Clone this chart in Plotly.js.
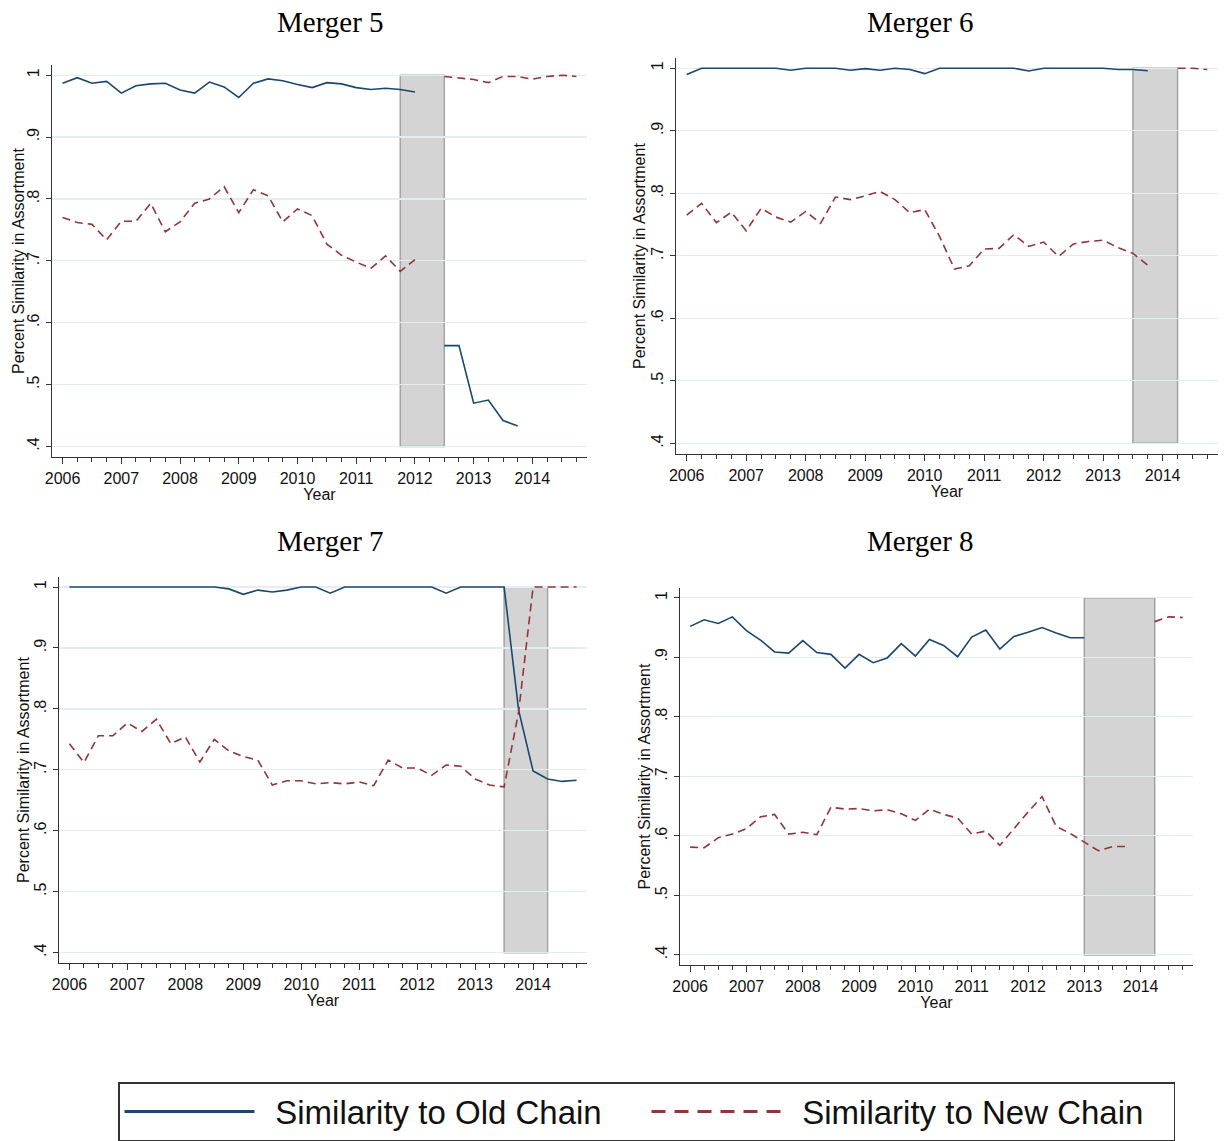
<!DOCTYPE html>
<html>
<head>
<meta charset="utf-8">
<script src="https://cdn.plot.ly/plotly-3.0.1.min.js"></script>
<style>
html,body{margin:0;padding:0;background:#fff;}
#chart{width:1225px;height:1141px;}
</style>
</head>
<body>
<div id="chart"></div>
<script>
// ---------------- DATA ----------------
const quarters = [
  2006, 2006.25, 2006.5, 2006.75,
  2007, 2007.25, 2007.5, 2007.75,
  2008, 2008.25, 2008.5, 2008.75,
  2009, 2009.25, 2009.5, 2009.75,
  2010, 2010.25, 2010.5, 2010.75,
  2011, 2011.25, 2011.5, 2011.75,
  2012, 2012.25, 2012.5, 2012.75,
  2013, 2013.25, 2013.5, 2013.75,
  2014, 2014.25, 2014.5, 2014.75
];
const mergerNames = ["Merger 5", "Merger 6", "Merger 7", "Merger 8"];
const seriesNames = ["Similarity to Old Chain", "Similarity to New Chain"];
const xTickVals = [2006, 2007, 2008, 2009, 2010, 2011, 2012, 2013, 2014];
const xTickText = ["2006", "2007", "2008", "2009", "2010", "2011", "2012", "2013", "2014"];
const yTickVals = [0.4, 0.5, 0.6, 0.7, 0.8, 0.9, 1.0];
const yTickText = [".4", ".5", ".6", ".7", ".8", ".9", "1"];
const yTitle = "Percent Similarity in Assortment";
const xTitle = "Year";

const oldM5 = [0.987, 0.996, 0.987, 0.990, 0.971, 0.983, 0.986, 0.987,
  0.976, 0.971, 0.989, 0.981, 0.964, 0.987, 0.994, 0.991,
  0.985, 0.980, 0.988, 0.986, 0.980, 0.977, 0.979, 0.977,
  0.973, null, 0.563, 0.563, 0.470, 0.475, 0.442, 0.433,
  null, null, null, null];
const newM5 = [0.770, 0.762, 0.759, 0.734, 0.764, 0.764, 0.793, 0.747,
  0.763, 0.793, 0.800, 0.820, 0.778, 0.815, 0.805, 0.763,
  0.784, 0.773, 0.727, 0.709, 0.698, 0.688, 0.708, 0.683,
  0.702, null, 0.998, 0.996, 0.993, 0.988, 0.998, 0.998,
  0.9935, 0.998, 1.000, 0.998];

const oldM6 = [0.990, 1.000, 1.000, 1.000, 1.000, 1.000, 1.000, 0.997,
  1.000, 1.000, 1.000, 0.997, 0.9995, 0.997, 1.000, 0.998,
  0.9915, 1.000, 1.000, 1.000, 1.000, 1.000, 1.000, 0.9957,
  1.000, 1.000, 1.000, 1.000, 1.000, 0.998, 0.998, 0.996,
  null, null, null, null];
const newM6 = [0.765, 0.784, 0.753, 0.770, 0.740, 0.776, 0.762, 0.754,
  0.771, 0.752, 0.794, 0.790, 0.796, 0.803, 0.790, 0.769,
  0.774, 0.731, 0.679, 0.684, 0.711, 0.712, 0.734, 0.715,
  0.722, 0.699, 0.719, 0.723, 0.725, 0.713, 0.704, 0.685,
  null, 1.000, 1.000, 0.998];

const oldM7 = [1.000, 1.000, 1.000, 1.000, 1.000, 1.000, 1.000, 1.000,
  1.000, 1.000, 1.000, 0.997, 0.988, 0.995, 0.992, 0.995,
  1.000, 1.000, 0.990, 1.000, 1.000, 1.000, 1.000, 1.000,
  1.000, 1.000, 0.990, 1.000, 1.000, 1.000, 1.000, 0.798,
  0.698, 0.685, 0.681, 0.683];
const newM7 = [0.743, 0.712, 0.756, 0.756, 0.777, 0.763, 0.783, 0.743,
  0.754, 0.713, 0.750, 0.731, 0.722, 0.716, 0.675, 0.682,
  0.682, 0.677, 0.679, 0.677, 0.680, 0.674, 0.716, 0.703,
  0.703, 0.691, 0.708, 0.706, 0.685, 0.675, 0.672, 0.795,
  1.000, 1.000, 1.000, 1.000];

const oldM8 = [0.952, 0.963, 0.957, 0.968, 0.945, 0.929, 0.909, 0.907,
  0.928, 0.908, 0.905, 0.882, 0.905, 0.891, 0.899, 0.923,
  0.902, 0.930, 0.920, 0.901, 0.934, 0.946, 0.914, 0.935,
  0.942, 0.950, 0.941, 0.933, 0.933, null, null, null,
  null, null, null, null];
const newM8 = [0.581, 0.580, 0.597, 0.603, 0.612, 0.632, 0.636, 0.603,
  0.606, 0.602, 0.648, 0.645, 0.646, 0.642, 0.644, 0.637,
  0.626, 0.645, 0.636, 0.630, 0.603, 0.608, 0.584, 0.613,
  0.640, 0.666, 0.616, 0.604, 0.589, 0.575, 0.582, 0.582,
  null, 0.960, 0.968, 0.967];

const shadeStart = [2011.75, 2013.5, 2013.5, 2013.0];
const shadeEnd = [2012.5, 2014.25, 2014.25, 2014.25];
const shadeLow = [0.4, 0.4, 0.4, 0.4];
const shadeHigh = [1.0, 1.0, 1.0, 1.0];

const oldSeries = [oldM5, oldM6, oldM7, oldM8];
const newSeries = [newM5, newM6, newM7, newM8];

// ---------------- LAYOUT ----------------
const W = 1225, H = 1141;
const boxes = [
  {l: 52, r: 587, t: 65, b: 457},
  {l: 676, r: 1218, t: 58, b: 454},
  {l: 59, r: 587, t: 577, b: 963},
  {l: 680, r: 1193, t: 588, b: 965}
];
const titlePos = [
  {x: 330, y: 22}, {x: 920, y: 22}, {x: 330, y: 541}, {x: 920, y: 541}
];
const yTitleX = [18, 639, 23, 644];
const oldColor = "#1a476f";
const newColor = "#90353b";
const axisColor = "#333333";
const gridColor = "#e4edf0";
const fontFam = "Liberation Sans, Arial, sans-serif";
const legendPad = "\u00a0\u2009";

const traces = [];
const layout = {
  width: W, height: H,
  margin: {l: 0, r: 0, t: 0, b: 0, autoexpand: false},
  paper_bgcolor: "#ffffff",
  plot_bgcolor: "#ffffff",
  font: {family: fontFam, color: "#111111", size: 16},
  showlegend: true,
  shapes: [],
  annotations: [],
  legend: {
    orientation: "h",
    x: 118 / W, xanchor: "left",
    y: 1 - 1082 / H, yanchor: "top",
    bordercolor: "#333333", borderwidth: 1.5,
    bgcolor: "#ffffff",
    font: {size: 33, family: fontFam, color: "#111111"},
    itemwidth: 130,
    entrywidth: 382,
    itemclick: false, itemdoubleclick: false
  }
};

for (let i = 0; i < 4; i++) {
  const b = boxes[i];
  const sfx = i === 0 ? "" : String(i + 1);
  const xa = "x" + sfx, ya = "y" + sfx;
  layout["xaxis" + sfx] = {
    domain: [b.l / W, b.r / W],
    anchor: ya,
    range: [2005.82, 2014.93],
    tickmode: "array", tickvals: xTickVals, ticktext: xTickText,
    ticks: "outside", ticklen: 6, tickwidth: 1, tickcolor: axisColor,
    showline: true, linecolor: axisColor, linewidth: 1.3,
    showgrid: false, zeroline: false,
    tickfont: {size: 16, color: "#111111"},
    minor: {tickmode: "array", tickvals: quarters, ticks: "outside", ticklen: 3.5, tickwidth: 1, tickcolor: axisColor, showgrid: false},
    title: {text: xTitle, font: {size: 16, color: "#111111"}, standoff: 0},
    fixedrange: true
  };
  layout["yaxis" + sfx] = {
    domain: [1 - b.b / H, 1 - b.t / H],
    anchor: xa,
    range: [0.383, 1.0165],
    tickmode: "array", tickvals: yTickVals, ticktext: yTickText,
    tickangle: -90,
    ticks: "outside", ticklen: 5, tickwidth: 1, tickcolor: axisColor,
    showline: true, linecolor: axisColor, linewidth: 1.3,
    showgrid: true, gridcolor: gridColor, gridwidth: 1.2,
    zeroline: false,
    tickfont: {size: 16, color: "#111111"},
    fixedrange: true
  };
  layout.shapes.push({
    type: "rect", layer: "below", xref: xa, yref: ya,
    x0: shadeStart[i], x1: shadeEnd[i], y0: shadeLow[i], y1: shadeHigh[i],
    fillcolor: "#d4d4d4", line: {color: "#a3a3a3", width: 1.5}
  });
  layout.annotations.push({
    xref: "paper", yref: "paper",
    x: titlePos[i].x / W, y: 1 - titlePos[i].y / H,
    xanchor: "center", yanchor: "middle",
    text: mergerNames[i], showarrow: false,
    font: {family: "Liberation Serif, Times New Roman, serif", size: 29, color: "#000000"}
  });
  // y-axis title
  layout.annotations.push({
    xref: "paper", yref: "paper",
    x: yTitleX[i] / W, y: 1 - (b.t + b.b) / 2 / H,
    xanchor: "center", yanchor: "middle",
    textangle: -90,
    text: yTitle, showarrow: false,
    font: {family: fontFam, size: 16, color: "#111111"}
  });
  traces.push({
    type: "scatter", mode: "lines", x: quarters, y: oldSeries[i],
    xaxis: xa, yaxis: ya, name: seriesNames[0], showlegend: false,
    connectgaps: false, hoverinfo: "skip",
    line: {color: oldColor, width: 1.6}
  });
  traces.push({
    type: "scatter", mode: "lines", x: quarters, y: newSeries[i],
    xaxis: xa, yaxis: ya, name: seriesNames[1], showlegend: false,
    connectgaps: false, hoverinfo: "skip",
    line: {color: newColor, width: 1.6, dash: "8px,5px"}
  });
}
// legend entries
traces.push({
  type: "scatter", mode: "lines", x: [null], y: [null], xaxis: "x", yaxis: "y",
  name: legendPad + seriesNames[0], showlegend: true, hoverinfo: "skip",
  line: {color: oldColor, width: 3}
});
traces.push({
  type: "scatter", mode: "lines", x: [null], y: [null], xaxis: "x", yaxis: "y",
  name: legendPad + seriesNames[1], showlegend: true, hoverinfo: "skip",
  line: {color: newColor, width: 3, dash: "14px,9px"}
});

Plotly.newPlot("chart", traces, layout, {staticPlot: true, displayModeBar: false});
</script>
</body>
</html>
